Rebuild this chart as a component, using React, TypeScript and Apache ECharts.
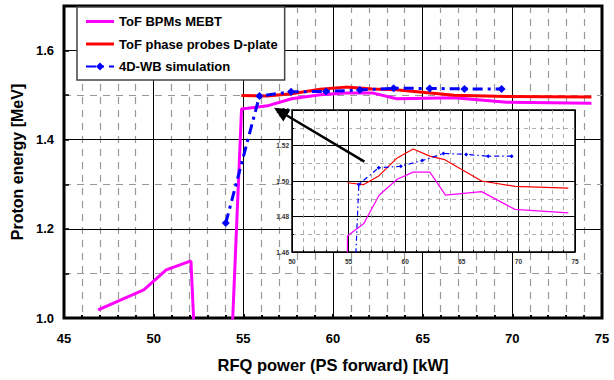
import React, { useEffect, useRef } from 'react';
import * as echarts from 'echarts';

// ToF BPMs MEBT (magenta)
const bpmX = [46.9, 49.45, 50.7, 52.08, 52.45, 54.2, 54.9, 56.34, 57.69, 59.29, 60.7, 62.18, 63.56, 66.75, 69.69, 74.41];
const bpmY = [1.018, 1.063, 1.108, 1.128, 0.8, 0.8, 1.469, 1.476, 1.492, 1.501, 1.505, 1.505, 1.492, 1.494, 1.484, 1.482];
// ToF phase probes D-plate (red)
const probeX = [54.89, 56.34, 57.69, 59.29, 60.7, 62.18, 63.5, 66.75, 69.69, 74.41];
const probeY = [1.499, 1.498, 1.503, 1.513, 1.518, 1.514, 1.512, 1.5, 1.497, 1.496];
// 4D-WB simulation (blue)
const simX = [54.02, 55.9, 57.66, 59.61, 61.5, 63.38, 65.39, 67.33, 69.4];
const simY = [1.213, 1.498, 1.5075, 1.5083, 1.5115, 1.5155, 1.515, 1.514, 1.514];

const seriesNames = ['ToF BPMs MEBT', 'ToF phase probes D-plate', '4D-WB simulation'];
const xTitle = 'RFQ power (PS forward) [kW]';
const yTitle = 'Proton energy [MeV]';

// arrow annotation (main-axis data coordinates)
const arrowFrom = [61.75, 1.351];
const arrowTo = [56.71, 1.4715];

const zip = (xs: number[], ys: number[]) => xs.map((x, i) => [x, ys[i]]);

const FONT = '"Liberation Sans", Arial, Helvetica, sans-serif';
const LINE_ICON = 'path://M0,0H28V3H0Z';

export default function App() {
  const ref = useRef<HTMLDivElement>(null);
  useEffect(() => {
    document.body.style.margin = '0';
    if (!ref.current) return;
    const chart = echarts.init(ref.current, undefined, { renderer: 'svg' });
    const mainLabel = { fontFamily: FONT, fontWeight: 'bold' as const, fontSize: 13, color: '#000' };
    const insetLabel = { fontFamily: FONT, fontWeight: 'bold' as const, fontSize: 6.5, color: '#333' };
    const option: any = {
      animation: false,
      backgroundColor: '#fff',
      grid: [
        { left: 64, top: 6, right: 12, bottom: 62, show: true, borderColor: '#000', borderWidth: 3, backgroundColor: 'transparent' },
        { left: 292, top: 110, width: 283, height: 142, show: true, borderColor: '#000', borderWidth: 1.5, backgroundColor: '#fff', z: 3 },
      ],
      xAxis: [
        {
          gridIndex: 0, type: 'value', min: 45, max: 75, interval: 5, position: 'bottom',
          axisLine: { show: false },
          axisTick: { show: true, inside: true, length: 4, lineStyle: { color: '#000', width: 2 } },
          minorTick: { show: true, splitNumber: 5, length: 3, lineStyle: { color: '#000', width: 2 } },
          splitLine: { show: true, lineStyle: { color: '#000', width: 1 } },
          minorSplitLine: { show: true, lineStyle: { color: '#999', width: 1.2, type: [7, 6] } },
          axisLabel: { ...mainLabel, margin: 14 },
          name: xTitle, nameLocation: 'middle', nameGap: 38,
          nameTextStyle: { fontFamily: FONT, fontWeight: 'bold', fontSize: 16.5, color: '#000' },
        },
        {
          gridIndex: 1, type: 'value', min: 50, max: 75, interval: 5, position: 'bottom', z: 4,
          axisLine: { show: false },
          axisTick: { show: true, inside: true, length: 3, lineStyle: { color: '#000', width: 1 } },
          minorTick: { show: true, splitNumber: 5, length: 2, lineStyle: { color: '#000', width: 1 } },
          splitLine: { show: true, lineStyle: { color: '#000', width: 1 } },
          minorSplitLine: { show: true, lineStyle: { color: '#999', width: 0.8, type: [4, 4] } },
          axisLabel: { ...insetLabel, margin: 6 },
        },
      ],
      yAxis: [
        {
          gridIndex: 0, type: 'value', min: 1.0, max: 1.7, interval: 0.2, position: 'left', z: 1,
          axisLine: { show: false }, axisTick: { show: false },
          splitLine: { show: true, lineStyle: { color: '#000', width: 1 } },
          axisLabel: { ...mainLabel, margin: 10, formatter: (v: number) => (v > 1.65 ? '' : v.toFixed(1)) },
          name: yTitle, nameLocation: 'middle', nameGap: 33,
          nameTextStyle: { fontFamily: FONT, fontWeight: 'bold', fontSize: 16, color: '#000' },
        },
        {
          gridIndex: 0, type: 'value', min: 1.0, max: 1.7, interval: 0.1, position: 'left', z: 0,
          axisLine: { show: false },
          axisTick: { show: true, inside: true, length: 5, lineStyle: { color: '#000', width: 1.5 } },
          splitLine: { show: true, lineStyle: { color: '#999', width: 1.2, type: [7, 6] } },
          axisLabel: { show: false },
        },
        {
          gridIndex: 1, type: 'value', min: 1.46, max: 1.54, interval: 0.02, position: 'left', z: 4,
          axisLine: { show: false },
          axisTick: { show: true, inside: true, length: 3, lineStyle: { color: '#000', width: 1 } },
          minorTick: { show: true, splitNumber: 2, length: 2, lineStyle: { color: '#000', width: 1 } },
          splitLine: { show: true, lineStyle: { color: '#000', width: 1 } },
          minorSplitLine: { show: true, lineStyle: { color: '#999', width: 0.8, type: [4, 4] } },
          axisLabel: { ...insetLabel, margin: 3, formatter: (v: number) => v.toFixed(2) },
        },
      ],
      legend: {
        data: [
          { name: seriesNames[0], icon: LINE_ICON },
          { name: seriesNames[1], icon: LINE_ICON },
          { name: seriesNames[2] },
        ],
        orient: 'vertical', left: 77, top: 7,
        padding: [8, 7, 7, 8], itemGap: 9.5, itemWidth: 28, itemHeight: 10,
        selectedMode: false, backgroundColor: '#fff', borderColor: '#444', borderWidth: 1.5, z: 6,
        textStyle: { fontFamily: FONT, fontWeight: 'bold', fontSize: 13, color: '#000' },
      },
      series: [
        {
          name: seriesNames[0], type: 'line', xAxisIndex: 0, yAxisIndex: 0, data: zip(bpmX, bpmY),
          symbol: 'none', lineStyle: { color: '#FF00FF', width: 3 }, itemStyle: { color: '#FF00FF' }, z: 2,
        },
        {
          name: seriesNames[1], type: 'line', xAxisIndex: 0, yAxisIndex: 0, data: zip(probeX, probeY),
          symbol: 'none', lineStyle: { color: '#FF0000', width: 3 }, itemStyle: { color: '#FF0000' }, z: 2,
        },
        {
          name: seriesNames[2], type: 'line', xAxisIndex: 0, yAxisIndex: 0, data: zip(simX, simY),
          symbol: 'diamond', symbolSize: 8, showSymbol: true,
          lineStyle: { color: '#0000FF', width: 3, type: [10, 5, 3, 5] }, itemStyle: { color: '#0000FF' }, z: 2,
        },
        {
          name: seriesNames[0], type: 'line', xAxisIndex: 1, yAxisIndex: 2, data: zip(bpmX, bpmY),
          symbol: 'none', lineStyle: { color: '#FF00FF', width: 1.2 }, itemStyle: { color: '#FF00FF' }, z: 5,
        },
        {
          name: seriesNames[1], type: 'line', xAxisIndex: 1, yAxisIndex: 2, data: zip(probeX, probeY),
          symbol: 'none', lineStyle: { color: '#FF0000', width: 1.2 }, itemStyle: { color: '#FF0000' }, z: 5,
        },
        {
          name: seriesNames[2], type: 'line', xAxisIndex: 1, yAxisIndex: 2, data: zip(simX, simY),
          symbol: 'diamond', symbolSize: 4, showSymbol: true,
          lineStyle: { color: '#0000FF', width: 1.2, type: [5, 3, 1.5, 3] }, itemStyle: { color: '#0000FF' }, z: 5,
        },
      ],
    };
    chart.setOption(option);

    const tail = chart.convertToPixel({ gridIndex: 0 }, arrowFrom) as number[];
    const tip = chart.convertToPixel({ gridIndex: 0 }, arrowTo) as number[];
    const dx = tip[0] - tail[0];
    const dy = tip[1] - tail[1];
    const len = Math.sqrt(dx * dx + dy * dy);
    const ux = dx / len, uy = dy / len;
    const headLen = 15, headHalf = 7;
    const bx = tip[0] - headLen * ux, by = tip[1] - headLen * uy;
    const nx = -uy, ny = ux;
    chart.setOption({
      graphic: [
        {
          type: 'line', z: 10,
          shape: { x1: tail[0], y1: tail[1], x2: bx + 2 * ux, y2: by + 2 * uy },
          style: { stroke: '#000', lineWidth: 2.5 },
        },
        {
          type: 'polygon', z: 10,
          shape: { points: [[tip[0], tip[1]], [bx + headHalf * nx, by + headHalf * ny], [bx - headHalf * nx, by - headHalf * ny]] },
          style: { fill: '#000' },
        },
      ],
    });

    return () => chart.dispose();
  }, []);
  return <div ref={ref} style={{ width: 614, height: 380 }} />;
}
